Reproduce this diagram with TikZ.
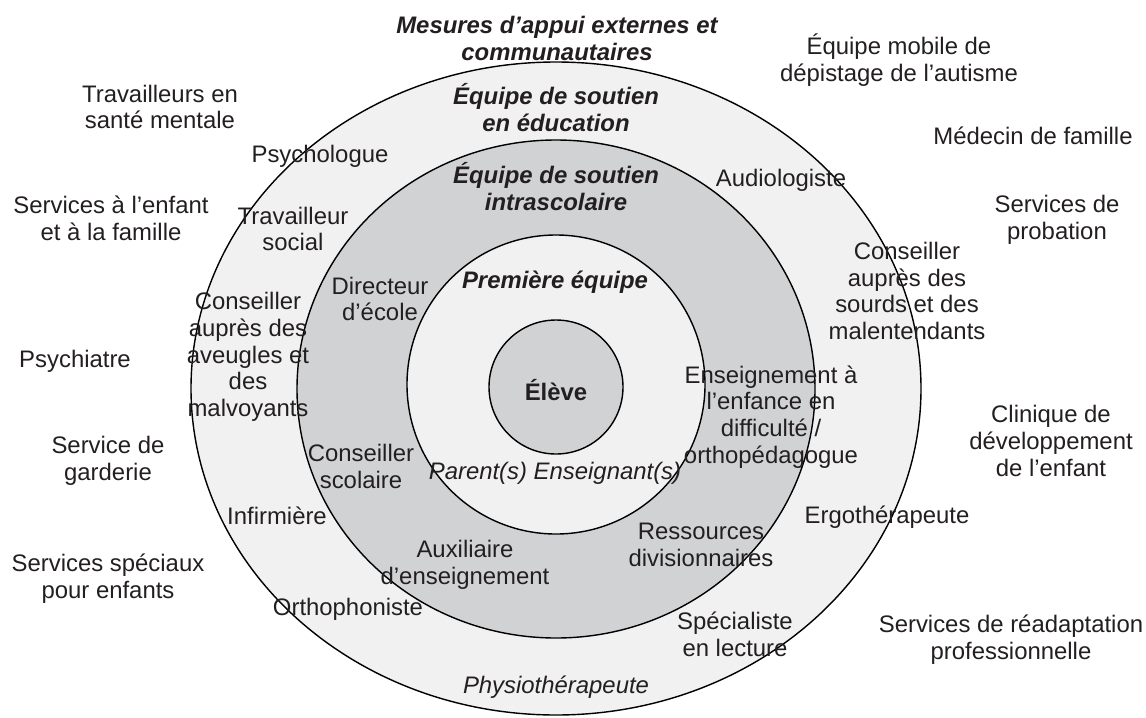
\documentclass[tikz,border=0pt]{standalone}
\usepackage{fontspec}
\setmainfont{Liberation Sans}
\definecolor{bandgray}{HTML}{D1D2D4}
\definecolor{paleband}{HTML}{F1F1F1}
\definecolor{inkgray}{HTML}{231F20}

\begin{document}
\begin{tikzpicture}[x=0.02cm, y=-0.02cm,
    every node/.style={text=inkgray, align=center, inner sep=0pt, font=\fontsize{13.6}{15.2}\selectfont},
    team/.style={font=\fontsize{13.6}{15.2}\selectfont\bfseries\itshape},
    member/.style={font=\fontsize{13.6}{15.2}\selectfont\itshape},
    ring/.style={draw=black, line width=0.8pt}]
    \useasboundingbox (0,0) rectangle (1146,717);

    % Rings
    \draw[ring, fill=paleband] (556,388.5) ellipse [x radius=365, y radius=326.5];
    \draw[ring, fill=bandgray] (556,389) ellipse [x radius=259, y radius=249];
    \draw[ring, fill=paleband] (556,384.5) ellipse [x radius=149, y radius=149.5];
    \draw[ring, fill=bandgray] (556,387) ellipse [x radius=67, y radius=67];

    % Team titles
    \node[team] (ext) at (557,38.5) {Mesures d'appui externes et\\communautaires};
    \node[team] (edu) at (556,107.5) {Équipe de soutien\\en éducation};
    \node[team] (intra) at (556,186.5) {Équipe de soutien\\intrascolaire};
    \node[team] (first) at (555,282) {Première équipe};
    \node[font=\fontsize{13.6}{15.2}\selectfont\bfseries] (pupil) at (556,390) {Élève};
    \node[member] (parents) at (555,473) {Parent(s) Enseignant(s)};

    % Inner band
    \node (director) at (380,299) {Directeur\\d'école};
    \node (counsel) at (361,466.5) {Conseiller\\scolaire};
    \node (special) at (771,417) {Enseignement à\\l'enfance en\\difficulté /\\orthopédagogue};
    \node (divres) at (701,545) {Ressources\\divisionnaires};
    \node (aide) at (465,565) {Auxiliaire\\d'enseignement};

    % Outer band
    \node (psycho) at (320,156) {Psychologue};
    \node (social) at (293,229) {Travailleur\\social};
    \node (blind) at (248,357) {Conseiller\\auprès des\\aveugles et\\des\\malvoyants};
    \node (nurse) at (277,516) {Infirmière};
    \node (speech) at (348,609) {Orthophoniste};
    \node (audio) at (781,180) {Audiologiste};
    \node (deaf) at (907,291) {Conseiller\\auprès des\\sourds et des\\malentendants};
    \node (ergo) at (887,517) {Ergothérapeute};
    \node (reading) at (735,634) {Spécialiste\\en lecture};
    \node[member] (physio) at (556,687) {Physiothérapeute};

    % External services, left
    \node (mental) at (160,107) {Travailleurs en\\santé mentale};
    \node (family) at (111,218) {Services à l'enfant\\et à la famille};
    \node (psychiatre) at (75,361) {Psychiatre};
    \node (daycare) at (108,461) {Service de\\garderie};
    \node (children) at (108,579) {Services spéciaux\\pour enfants};

    % External services, right
    \node (autism) at (899,60) {Équipe mobile de\\dépistage de l'autisme};
    \node (doctor) at (1033,136) {Médecin de famille};
    \node (probation) at (1057,220) {Services de\\probation};
    \node (clinic) at (1051,441) {Clinique de\\développement\\de l'enfant};
    \node (rehab) at (1011,640) {Services de réadaptation\\professionnelle};
\end{tikzpicture}
\end{document}
